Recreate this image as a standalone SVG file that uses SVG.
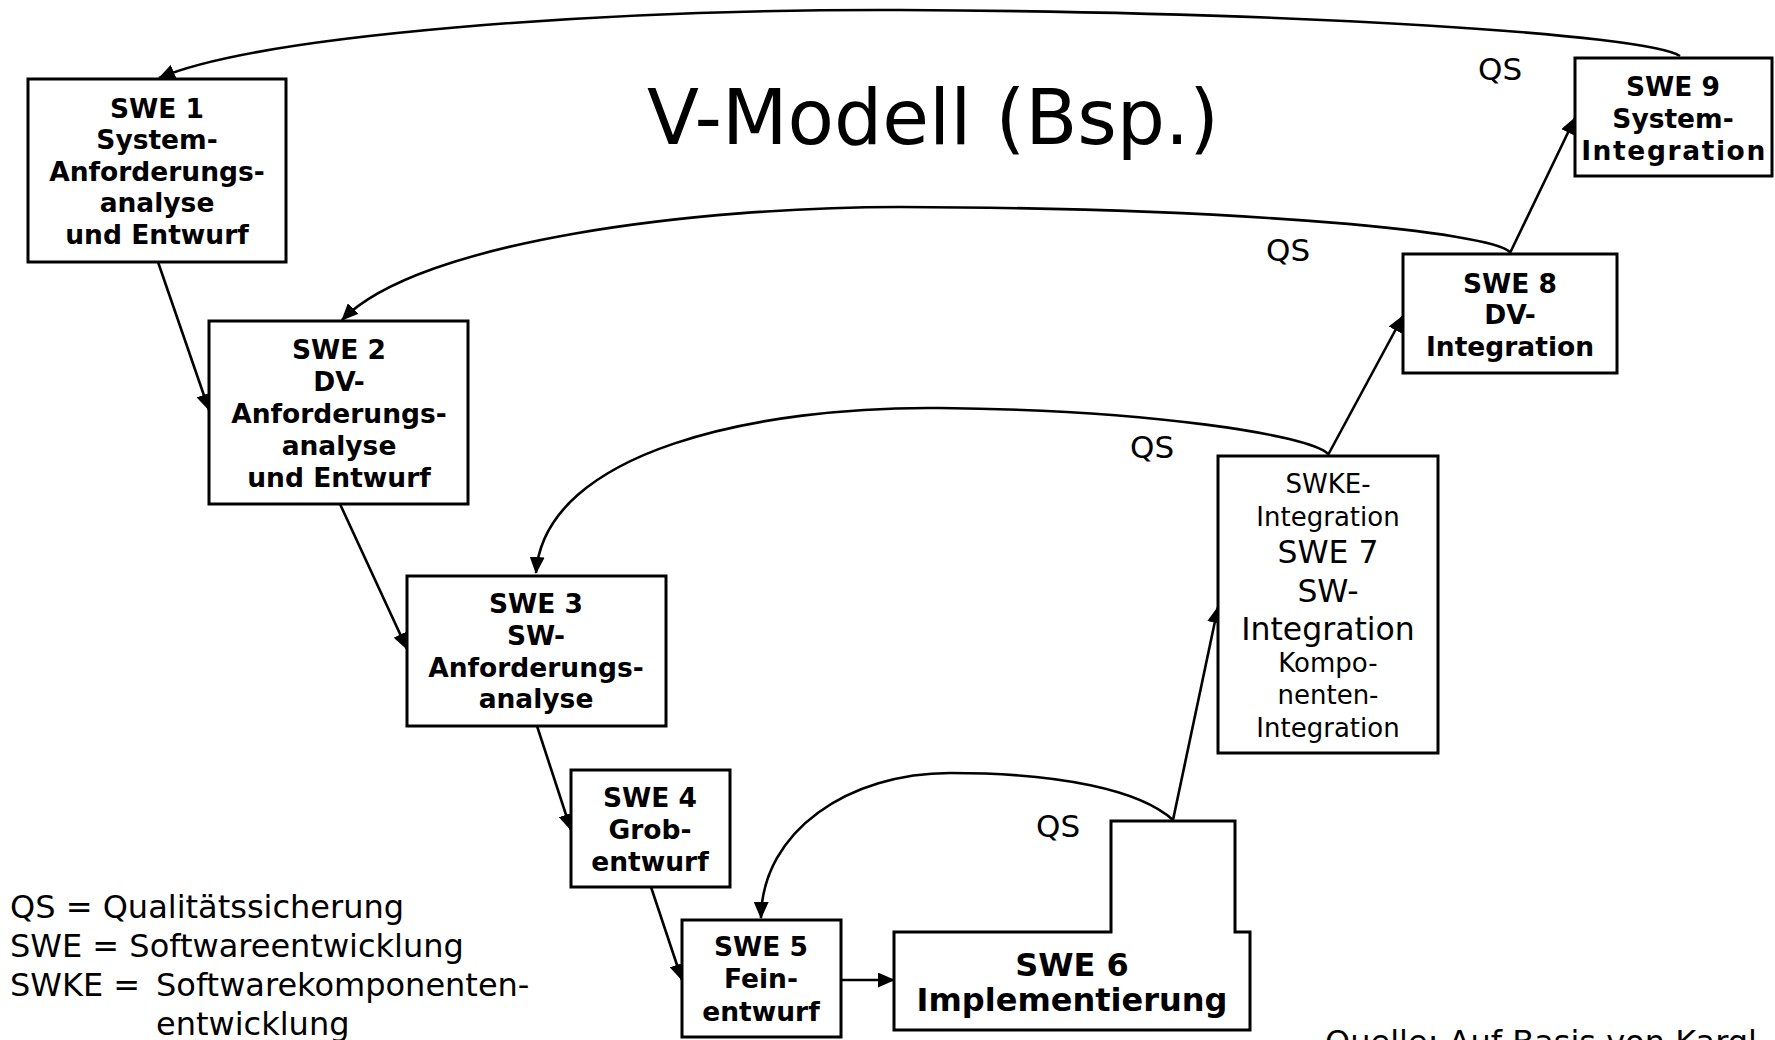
<svg xmlns="http://www.w3.org/2000/svg" width="1775" height="1040" viewBox="0 0 1775 1040">
  <defs>
    <marker id="arrow" markerUnits="userSpaceOnUse" markerWidth="17" markerHeight="15" refX="16" refY="7.5" orient="auto">
      <path d="M0,0 L17,7.5 L0,15 Z" fill="#000"/>
    </marker>
    <style>
      .box { fill: #fff; stroke: #000; stroke-width: 3; }
      .bold { font-family: "DejaVu Sans", Verdana, sans-serif; font-weight: bold; font-size: 26.5px; text-anchor: middle; fill: #000; }
      .big { font-size: 32px; }
      .reg { font-family: "DejaVu Sans", Verdana, sans-serif; fill: #000; }
      .qs { font-family: "DejaVu Sans", Verdana, sans-serif; font-size: 31px; fill: #000; }
      .edge { fill: none; stroke: #000; stroke-width: 2.6; marker-end: url(#arrow); }
    </style>
  </defs>

  <rect width="1775" height="1040" fill="#fff"/>

  <!-- title -->
  <text x="933" y="144" class="reg" font-size="76" text-anchor="middle">V-Modell (Bsp.)</text>

  <!-- connectors -->
  <g id="connectors">
    <!-- forward flow down the left leg and up the right leg -->
    <line class="edge" x1="158" y1="262" x2="209" y2="410"/>
    <line class="edge" x1="340" y1="504" x2="407" y2="649"/>
    <line class="edge" x1="537" y1="726" x2="571" y2="830"/>
    <line class="edge" x1="651" y1="887" x2="682" y2="980"/>
    <line class="edge" x1="841" y1="980" x2="894" y2="980"/>
    <line class="edge" x1="1173" y1="820" x2="1218" y2="607"/>
    <line class="edge" x1="1328" y1="455" x2="1403" y2="316"/>
    <line class="edge" x1="1510" y1="253" x2="1575" y2="118"/>

    <!-- QS feedback arcs -->
    <path class="edge" d="M1680,56 C1645,34 1300,12 900,10 C600,9 260,35 159,78"/>
    <path class="edge" d="M1510,252 C1490,232 1250,208 900,207 C700,207 420,240 342,320"/>
    <path class="edge" d="M1328,454 C1310,435 1150,410 940,408 C760,406 545,450 536,573"/>
    <path class="edge" d="M1173,820 C1140,790 1060,773 950,773 C850,773 762,830 761,918"/>

    <text class="qs" x="1478" y="80">QS</text>
    <text class="qs" x="1266" y="261">QS</text>
    <text class="qs" x="1130" y="458">QS</text>
    <text class="qs" x="1036" y="837">QS</text>
  </g>

  <g id="swe1">
    <rect class="box" x="28" y="79" width="258" height="183"/>
    <text class="bold" x="157" y="118">SWE 1</text>
    <text class="bold" x="157" y="149">System-</text>
    <text class="bold" x="157" y="181">Anforderungs-</text>
    <text class="bold" x="157" y="212">analyse</text>
    <text class="bold" x="157" y="244">und Entwurf</text>
  </g>

  <g id="swe2">
    <rect class="box" x="209" y="321" width="259" height="183"/>
    <text class="bold" x="339" y="359">SWE 2</text>
    <text class="bold" x="339" y="391">DV-</text>
    <text class="bold" x="339" y="423">Anforderungs-</text>
    <text class="bold" x="339" y="455">analyse</text>
    <text class="bold" x="339" y="487">und Entwurf</text>
  </g>

  <g id="swe3">
    <rect class="box" x="407" y="576" width="259" height="150"/>
    <text class="bold" x="536" y="613">SWE 3</text>
    <text class="bold" x="536" y="645">SW-</text>
    <text class="bold" x="536" y="677">Anforderungs-</text>
    <text class="bold" x="536" y="708">analyse</text>
  </g>

  <g id="swe4">
    <rect class="box" x="571" y="770" width="159" height="117"/>
    <text class="bold" x="650" y="807">SWE 4</text>
    <text class="bold" x="650" y="839">Grob-</text>
    <text class="bold" x="650" y="871">entwurf</text>
  </g>

  <g id="swe5">
    <rect class="box" x="682" y="920" width="159" height="117"/>
    <text class="bold" x="761" y="956">SWE 5</text>
    <text class="bold" x="761" y="988">Fein-</text>
    <text class="bold" x="761" y="1021">entwurf</text>
  </g>

  <g id="swe6">
    <path class="box" d="M894,932 H1111 V821 H1235 V932 H1250 V1030 H894 Z"/>
    <text class="bold big" x="1072" y="976">SWE 6</text>
    <text class="bold big" x="1072" y="1011">Implementierung</text>
  </g>

  <g id="swe7">
    <rect class="box" x="1218" y="456" width="220" height="297"/>
    <text class="reg" x="1328" y="493" font-size="26" text-anchor="middle">SWKE-</text>
    <text class="reg" x="1328" y="526" font-size="26" text-anchor="middle">Integration</text>
    <text class="reg" x="1328" y="563" font-size="31.5" text-anchor="middle">SWE 7</text>
    <text class="reg" x="1328" y="602" font-size="31.5" text-anchor="middle">SW-</text>
    <text class="reg" x="1328" y="640" font-size="31.5" text-anchor="middle">Integration</text>
    <text class="reg" x="1328" y="672" font-size="26" text-anchor="middle">Kompo-</text>
    <text class="reg" x="1328" y="704" font-size="26" text-anchor="middle">nenten-</text>
    <text class="reg" x="1328" y="737" font-size="26" text-anchor="middle">Integration</text>
  </g>

  <g id="swe8">
    <rect class="box" x="1403" y="254" width="214" height="119"/>
    <text class="bold" x="1510" y="293">SWE 8</text>
    <text class="bold" x="1510" y="324">DV-</text>
    <text class="bold" x="1510" y="356">Integration</text>
  </g>

  <g id="swe9">
    <rect class="box" x="1575" y="58" width="197" height="118"/>
    <text class="bold" x="1673" y="96">SWE 9</text>
    <text class="bold" x="1673" y="128">System-</text>
    <text class="bold" x="1674" y="160" letter-spacing="1.6">Integration</text>
  </g>

  <!-- legend -->
  <g id="legend" class="reg" font-size="32">
    <text x="10" y="918">QS = Qualitätssicherung</text>
    <text x="10" y="957">SWE = Softwareentwicklung</text>
    <text x="10" y="996">SWKE =</text>
    <text x="156" y="996">Softwarekomponenten-</text>
    <text x="156" y="1035">entwicklung</text>
  </g>

  <!-- source note, runs off the bottom edge -->
  <text class="reg" x="1325" y="1053" font-size="32">Quelle: Auf Basis von Kargl</text>
</svg>
